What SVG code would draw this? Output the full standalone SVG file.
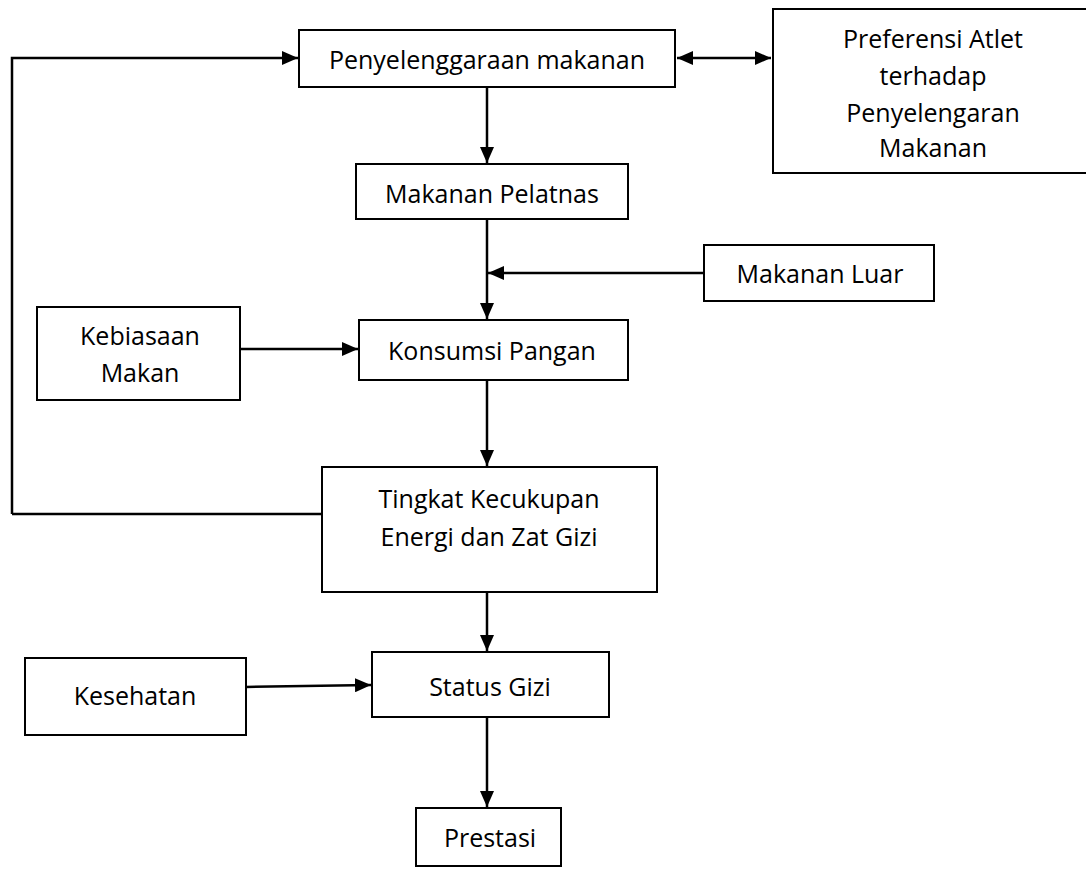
<svg xmlns="http://www.w3.org/2000/svg" width="1086" height="879" viewBox="0 0 1086 879">
<style>
.box{fill:#fff;stroke:#000;stroke-width:2}
.lbl{font-family:"Open Sans","Noto Sans",sans-serif;font-size:25px;fill:#000;text-anchor:middle;dominant-baseline:central}
.ln{fill:none;stroke:#000;stroke-width:2.5}
</style>
<defs>
<marker id="ah" viewBox="0 0 16 14" refX="16" refY="7" markerWidth="16" markerHeight="14" markerUnits="userSpaceOnUse" orient="auto-start-reverse">
<path d="M0,0 L16,7 L0,14 Z" fill="#000"/>
</marker>
</defs>
<g id="connectors">
<path class="ln" d="M12,514 L12,58 L298,58" marker-end="url(#ah)"/>
<path class="ln" d="M322,514 L12,514"/>
<path class="ln" d="M677,58 L771,58" marker-start="url(#ah)" marker-end="url(#ah)"/>
<path class="ln" d="M487,87 L487,163" marker-end="url(#ah)"/>
<path class="ln" d="M487,219 L487,319" marker-end="url(#ah)"/>
<path class="ln" d="M703,273 L488,273" marker-end="url(#ah)"/>
<path class="ln" d="M240,349 L358,349" marker-end="url(#ah)"/>
<path class="ln" d="M487,380 L487,466" marker-end="url(#ah)"/>
<path class="ln" d="M487,592 L487,651" marker-end="url(#ah)"/>
<path class="ln" d="M246,687 L371,685" marker-end="url(#ah)"/>
<path class="ln" d="M487,717 L487,807" marker-end="url(#ah)"/>
</g>
<g id="penyelenggaraan">
<rect class="box" x="299" y="30" width="376" height="57"/>
<text class="lbl" x="487" y="59">Penyelenggaraan makanan</text>
</g>
<g id="preferensi">
<rect class="box" x="773" y="9" width="320" height="164"/>
<text class="lbl" x="933" y="38">Preferensi Atlet</text>
<text class="lbl" x="933" y="75">terhadap</text>
<text class="lbl" x="933" y="112">Penyelengaran</text>
<text class="lbl" x="933" y="147">Makanan</text>
</g>
<g id="pelatnas">
<rect class="box" x="356" y="164" width="272" height="55"/>
<text class="lbl" x="492" y="193">Makanan Pelatnas</text>
</g>
<g id="luar">
<rect class="box" x="704" y="245" width="230" height="56"/>
<text class="lbl" x="820" y="273">Makanan Luar</text>
</g>
<g id="kebiasaan">
<rect class="box" x="37" y="307" width="203" height="93"/>
<text class="lbl" x="140" y="335">Kebiasaan</text>
<text class="lbl" x="140" y="372">Makan</text>
</g>
<g id="konsumsi">
<rect class="box" x="359" y="320" width="269" height="60"/>
<text class="lbl" x="492" y="350">Konsumsi Pangan</text>
</g>
<g id="tingkat">
<rect class="box" x="322" y="467" width="335" height="125"/>
<text class="lbl" x="489" y="498">Tingkat Kecukupan</text>
<text class="lbl" x="489" y="536">Energi dan Zat Gizi</text>
</g>
<g id="kesehatan">
<rect class="box" x="25" y="658" width="221" height="77"/>
<text class="lbl" x="135" y="695">Kesehatan</text>
</g>
<g id="status">
<rect class="box" x="372" y="652" width="237" height="65"/>
<text class="lbl" x="490" y="686">Status Gizi</text>
</g>
<g id="prestasi">
<rect class="box" x="416" y="808" width="145" height="58"/>
<text class="lbl" x="490" y="837">Prestasi</text>
</g>
</svg>
